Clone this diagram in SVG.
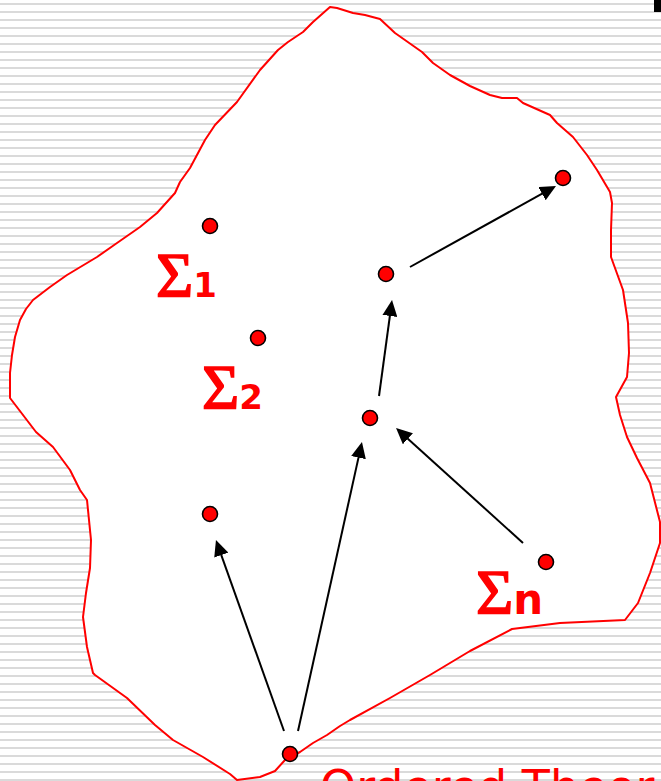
<svg xmlns="http://www.w3.org/2000/svg" width="661" height="781" viewBox="0 0 661 781">
  <style>
    .blob { fill: #ffffff; stroke: #ff0000; stroke-width: 2; stroke-linejoin: round; }
    .dot { fill: #ff0000; stroke: #000000; stroke-width: 1.6; }
    .edge { fill: none; stroke: #000000; stroke-width: 2; marker-end: url(#arrow); }
    .lbl { fill: #ff0000; }
    .sig { font-family: "Liberation Serif", serif; font-size: 64px; stroke: #ff0000; stroke-width: 1.6; }
    .sub { font-family: "DejaVu Sans", Verdana, sans-serif; font-weight: bold; font-size: 34px; }
    .title { fill: #ff0000; font-family: "DejaVu Sans", Verdana, sans-serif; font-size: 46px; }
  </style>
  <defs>
    <pattern id="stripes" patternUnits="userSpaceOnUse" x="0" y="0" width="8" height="8">
      <rect x="0" y="3" width="8" height="2" fill="#dadada"/>
    </pattern>
    <marker id="arrow" markerUnits="userSpaceOnUse" markerWidth="16" markerHeight="15" refX="12" refY="7.5" orient="auto">
      <path d="M0,0 L16,7.5 L0,15 Z" fill="#000000"/>
    </marker>
  </defs>

  <rect x="0" y="0" width="661" height="781" fill="#ffffff"/>
  <rect x="0" y="0" width="661" height="781" fill="url(#stripes)"/>
  <rect x="654" y="0" width="7" height="12" fill="#000000"/>

  <g id="region">
    <path class="blob" d="M330,7 L337,8 L353,13 L365,15 L380,19 L395,33 L422,52 L433,63 L450,75 L470,86 L490,95 L502,98 L517,98 L523,103 L550,115 L557,123 L573,137 L587,155 L597,170 L610,192 L612,203 L611,230 L611,257 L623,290 L628,323 L629,353 L627,377 L616,397 L620,415 L627,437 L637,458 L650,483 L660,522 L660,543 L650,573 L638,603 L625,620 L560,623 L512,629 L470,651 L430,675 L390,698 L350,720 L340,726 L327,735 L313,743 L300,752 L285,760 L275,771 L260,777 L237,780 L230,774 L203,757 L173,740 L155,725 L127,698 L95,675 L93,673 L87,647 L83,617 L86,593 L90,568 L91,540 L87,500 L80,490 L70,470 L53,447 L36,432 L10,398 L10,373 L12,355 L15,337 L20,320 L26,309 L33,300 L50,287 L67,275 L97,257 L117,243 L140,227 L157,213 L175,193 L180,182 L190,168 L205,140 L215,125 L237,102 L260,70 L278,50 L288,42 L303,32 L313,22 Z"/>
  </g>

  <g id="connectors">
    <line class="edge" x1="284" y1="731" x2="217.3" y2="543.8"/>
    <line class="edge" x1="298" y1="731" x2="361.1" y2="445.9"/>
    <line class="edge" x1="523" y1="543" x2="399.0" y2="430.7"/>
    <line class="edge" x1="379" y1="396" x2="391.5" y2="304.0"/>
    <line class="edge" x1="410" y1="267" x2="552.5" y2="187.9"/>
  </g>

  <g id="n1"><circle class="dot" cx="210" cy="226" r="7.5"/></g>
  <g id="n2"><circle class="dot" cx="258" cy="338" r="7.5"/></g>
  <g id="n3"><circle class="dot" cx="210" cy="514" r="7.5"/></g>
  <g id="n4"><circle class="dot" cx="370" cy="418" r="7.5"/></g>
  <g id="n5"><circle class="dot" cx="386" cy="274" r="7.5"/></g>
  <g id="n6"><circle class="dot" cx="563" cy="178" r="7.5"/></g>
  <g id="n7"><circle class="dot" cx="546" cy="562" r="7.5"/></g>
  <g id="n8"><circle class="dot" cx="290" cy="754" r="7.5"/></g>

  <g id="label-s1"><text class="lbl" x="156" y="297"><tspan class="sig">Σ</tspan><tspan class="sub">1</tspan></text></g>
  <g id="label-s2"><text class="lbl" x="202" y="409"><tspan class="sig">Σ</tspan><tspan class="sub">2</tspan></text></g>
  <g id="label-sn"><text class="lbl" x="476" y="614"><tspan class="sig">Σ</tspan><tspan class="sub" style="font-size:42px">n</tspan></text></g>

  <g id="title"><text class="title" x="320" y="803">Ordered Theor</text></g>
</svg>
